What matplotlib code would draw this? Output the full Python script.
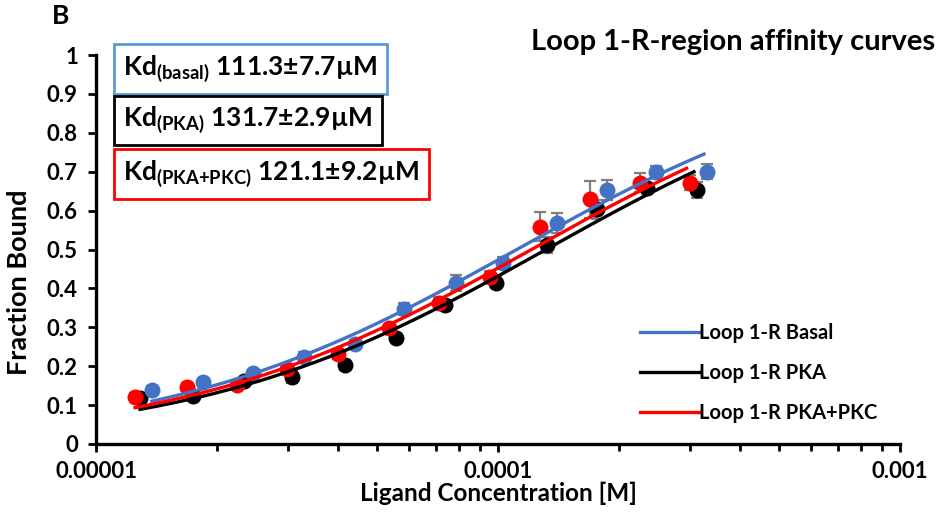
import numpy as np
import matplotlib
matplotlib.use("Agg")
import matplotlib.pyplot as plt

plt.rcParams["font.family"] = ["Lato", "DejaVu Sans"]
plt.rcParams["font.weight"] = "bold"
plt.rcParams["mathtext.fontset"] = "custom"
plt.rcParams["mathtext.rm"] = "Lato:bold"
plt.rcParams["mathtext.bf"] = "Lato:bold"

# Ligand concentrations (M) and fraction bound per construct
conc_basal = [1.376e-5, 1.847e-5, 2.46e-5, 3.30e-5, 4.42e-5, 5.85e-5,
              7.84e-5, 1.032e-4, 1.399e-4, 1.862e-4, 2.467e-4, 3.32e-4]
fb_basal = [0.139, 0.160, 0.183, 0.224, 0.257, 0.347,
            0.414, 0.466, 0.568, 0.653, 0.700, 0.700]
err_basal = [0.010, 0.008, 0.008, 0.012, 0.010, 0.015,
             0.020, 0.015, 0.025, 0.025, 0.015, 0.020]

conc_pka = [1.287e-5, 1.747e-5, 2.33e-5, 3.07e-5, 4.17e-5, 5.56e-5,
            7.40e-5, 9.86e-5, 1.326e-4, 1.76e-4, 2.353e-4, 3.135e-4]
fb_pka = [0.117, 0.123, 0.163, 0.173, 0.203, 0.272,
          0.357, 0.415, 0.512, 0.603, 0.657, 0.653]
err_pka = [0.010, 0.008, 0.010, 0.015, 0.012, 0.010,
           0.012, 0.015, 0.020, 0.025, 0.015, 0.020]

conc_pkc = [1.251e-5, 1.682e-5, 2.24e-5, 2.985e-5, 4.01e-5, 5.35e-5,
            7.12e-5, 9.54e-5, 1.27e-4, 1.693e-4, 2.255e-4, 3.005e-4]
fb_pkc = [0.122, 0.146, 0.152, 0.193, 0.231, 0.297,
          0.362, 0.430, 0.559, 0.629, 0.672, 0.672]
err_pkc = [0.008, 0.010, 0.008, 0.012, 0.012, 0.010,
           0.015, 0.015, 0.038, 0.048, 0.025, 0.020]

# Fitted dissociation constants (µM) and their errors
kd_basal, kd_basal_err = 111.3, 7.7
kd_pka, kd_pka_err = 131.7, 2.9
kd_pkc, kd_pkc_err = 121.1, 9.2

series_names = ["Loop 1-R Basal", "Loop 1-R PKA", "Loop 1-R PKA+PKC"]
kd_tags = ["basal", "PKA", "PKA{+}PKC"]
x_ticks = [1e-5, 1e-4, 1e-3]
x_tick_labels = ["0.00001", "0.0001", "0.001"]
y_ticks = [0, 0.1, 0.2, 0.3, 0.4, 0.5, 0.6, 0.7, 0.8, 0.9, 1]
y_tick_labels = ["0", "0.1", "0.2", "0.3", "0.4", "0.5", "0.6", "0.7", "0.8", "0.9", "1"]

BLUE = "#4472C4"
BLACK = "#000000"
RED = "#FF0000"
BOX_BLUE = "#5B9BD5"

W, H = 941, 514
fig = plt.figure(figsize=(W / 100, H / 100), dpi=100)
ax = fig.add_axes([96 / W, 1 - 444 / H, (900 - 96) / W, (444 - 55) / H])
ax.set_xscale("log")
ax.set_xlim(1e-5, 1e-3)
ax.set_ylim(0, 1)

data = [
    (conc_pka, fb_pka, err_pka, BLACK),
    (conc_basal, fb_basal, err_basal, BLUE),
    (conc_pkc, fb_pkc, err_pkc, RED),
]
for i, (c, f, e, col) in enumerate(data):
    ax.errorbar(c, f, yerr=e, fmt="none", ecolor="#7F7F7F", elinewidth=1.6,
                capsize=4.5, capthick=1.6, zorder=2)
    ax.plot(c, f, "o", color=col, markersize=11.5, markeredgewidth=0, zorder=3 + i,
            clip_on=False)

# One-site binding fits: fraction bound = [L] / (Kd + [L])
fits = [
    (conc_basal, kd_basal, BLUE, series_names[0]),
    (conc_pka, kd_pka, BLACK, series_names[1]),
    (conc_pkc, kd_pkc, RED, series_names[2]),
]
handles = []
for c, kd, col, name in fits:
    xs = np.geomspace(min(c), max(c) * 0.98, 200)
    ys = xs / (kd * 1e-6 + xs)
    h, = ax.plot(xs, ys, "-", color=col, linewidth=2.4, zorder=7, label=name)
    handles.append(h)

for side in ("top", "right"):
    ax.spines[side].set_visible(False)
for side in ("left", "bottom"):
    ax.spines[side].set_linewidth(2.4)
    ax.spines[side].set_color("black")

ax.set_xticks(x_ticks)
ax.set_xticklabels(x_tick_labels)
ax.set_yticks(y_ticks)
ax.set_yticklabels(y_tick_labels)
ax.tick_params(axis="both", which="major", direction="out", length=6, width=2,
               labelsize=16, pad=7)
ax.tick_params(axis="x", which="minor", direction="out", length=5, width=2)
ax.tick_params(axis="x", which="major", pad=6)
for lab in ax.get_xticklabels() + ax.get_yticklabels():
    lab.set_fontweight("bold")

# Axis titles
fig.text(498 / W, 1 - 493 / H, "Ligand Concentration [M]", fontsize=17.5,
         fontweight="bold", ha="center", va="center")
fig.text(19 / W, 1 - 282 / H, "Fraction Bound", fontsize=19.5, fontweight="bold",
         ha="center", va="center", rotation=90)

leg = ax.legend(handles=handles, loc="upper left", bbox_to_anchor=(622 / W, 1 - 305 / H),
                bbox_transform=fig.transFigure, frameon=False, fontsize=14.5,
                handlelength=2.95, handletextpad=-0.05, labelspacing=1.0)
for t in leg.get_texts():
    t.set_fontweight("bold")

fig.text(935 / W, 1 - 42 / H, "Loop 1-R-region affinity curves", fontsize=21,
         fontweight="bold", va="center", ha="right")
fig.text(52 / W, 1 - 16 / H, "B", fontsize=19, fontweight="bold", va="center", ha="left")

kd_rows = [
    (kd_tags[0], kd_basal, kd_basal_err, BOX_BLUE, 69),
    (kd_tags[1], kd_pka, kd_pka_err, BLACK, 120.5),
    (kd_tags[2], kd_pkc, kd_pkc_err, RED, 174),
]
for tag, kd, err, col, ypix in kd_rows:
    label = r"$\mathbf{Kd}_{\mathbf{(" + tag + r")}}$" + f" {kd:.1f}±{err:.1f}µM"
    fig.text(123 / W, 1 - ypix / H, label, fontsize=19, fontweight="bold",
             va="center", ha="left",
             bbox=dict(boxstyle="square,pad=0.35", facecolor="white", edgecolor=col,
                       linewidth=2))

fig.savefig("out.png", dpi=100)
